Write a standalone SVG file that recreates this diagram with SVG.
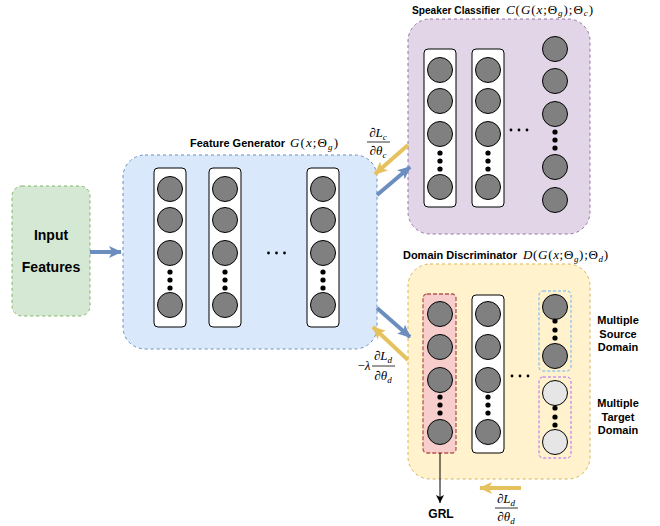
<svg xmlns="http://www.w3.org/2000/svg" width="660" height="526" viewBox="0 0 660 526">
<defs>
<style>
.lbl{font-family:"Liberation Sans",Arial,sans-serif;font-weight:bold;fill:#000}
.m{font-family:"Liberation Serif","Times New Roman",serif;font-style:italic;fill:#000}
.u{font-style:normal}
.col{fill:#fff;stroke:#000;stroke-width:1}
.n{fill:#808080;stroke:#000;stroke-width:1}
.nl{fill:#e6e6e6;stroke:#000;stroke-width:1}
.d{fill:#000}
.ab{stroke:#6c8ebf;stroke-width:4;fill:none}
.ay{stroke:#e6c25e;stroke-width:4;fill:none}
</style>
<marker id="mb" markerUnits="userSpaceOnUse" markerWidth="14" markerHeight="14" refX="12" refY="7" orient="auto"><path d="M0,1 L13,7 L0,13 L3,7 Z" fill="#6c8ebf"/></marker>
<marker id="my" markerUnits="userSpaceOnUse" markerWidth="14" markerHeight="14" refX="12" refY="7" orient="auto"><path d="M0,1 L13,7 L0,13 L3,7 Z" fill="#e6c25e"/></marker>
<marker id="mk" markerUnits="userSpaceOnUse" markerWidth="10" markerHeight="10" refX="8" refY="5" orient="auto"><path d="M0,1 L8,5 L0,9 L2,5 Z" fill="#000"/></marker>
</defs>
<rect width="660" height="526" fill="#fff"/>

<g id="input-features">
<rect x="12" y="186" width="78" height="130" rx="10" fill="#d5e8d4" stroke="#82b366" stroke-dasharray="3 3"/>
<text class="lbl" x="51" y="240" font-size="14" text-anchor="middle">Input</text>
<text class="lbl" x="51" y="272" font-size="14" text-anchor="middle">Features</text>
</g>

<g id="feature-generator">
<rect x="123" y="155" width="254" height="194" rx="22" fill="#dae8fc" stroke="#6c8ebf" stroke-dasharray="3 3"/>
<text class="lbl" x="190" y="147" font-size="11" textLength="95">Feature Generator</text>
<text class="m" x="290" y="147" font-size="13" textLength="48">G<tspan class="u">(</tspan>x<tspan class="u">;Θ</tspan><tspan dy="2.5" font-size="9">g</tspan><tspan class="u" dy="-2.5">)</tspan></text>
<g>
<rect class="col" x="154" y="168" width="32" height="159" rx="4"/>
<circle class="n" cx="170" cy="189" r="12.5"/><circle class="n" cx="170" cy="220" r="12.5"/><circle class="n" cx="170" cy="253" r="12.5"/>
<circle class="d" cx="170" cy="272" r="2.6"/><circle class="d" cx="170" cy="280" r="2.6"/><circle class="d" cx="170" cy="288" r="2.6"/>
<circle class="n" cx="170" cy="305" r="12.5"/>
</g>
<g>
<rect class="col" x="209" y="168" width="32" height="159" rx="4"/>
<circle class="n" cx="225" cy="189" r="12.5"/><circle class="n" cx="225" cy="220" r="12.5"/><circle class="n" cx="225" cy="253" r="12.5"/>
<circle class="d" cx="225" cy="272" r="2.6"/><circle class="d" cx="225" cy="280" r="2.6"/><circle class="d" cx="225" cy="288" r="2.6"/>
<circle class="n" cx="225" cy="305" r="12.5"/>
</g>
<g>
<rect class="col" x="307" y="168" width="32" height="159" rx="4"/>
<circle class="n" cx="323" cy="189" r="12.5"/><circle class="n" cx="323" cy="220" r="12.5"/><circle class="n" cx="323" cy="253" r="12.5"/>
<circle class="d" cx="323" cy="272" r="2.6"/><circle class="d" cx="323" cy="280" r="2.6"/><circle class="d" cx="323" cy="288" r="2.6"/>
<circle class="n" cx="323" cy="305" r="12.5"/>
</g>
<circle class="d" cx="268.5" cy="253" r="1.4"/><circle class="d" cx="276.5" cy="253" r="1.4"/><circle class="d" cx="284.5" cy="253" r="1.4"/>
</g>

<g id="speaker-classifier">
<rect x="408" y="19" width="182" height="215" rx="22" fill="#e1d5e7" stroke="#9673a6" stroke-dasharray="3 3"/>
<text class="lbl" x="412" y="13.5" font-size="11" textLength="88" lengthAdjust="spacingAndGlyphs">Speaker Classifier</text>
<text class="m" x="506" y="13.5" font-size="13" textLength="87">C<tspan class="u">(</tspan>G<tspan class="u">(</tspan>x<tspan class="u">;Θ</tspan><tspan dy="2.5" font-size="9">g</tspan><tspan class="u" dy="-2.5">);Θ</tspan><tspan dy="2.5" font-size="9">c</tspan><tspan class="u" dy="-2.5">)</tspan></text>
<g>
<rect class="col" x="424" y="49" width="32" height="158" rx="4"/>
<circle class="n" cx="440" cy="70" r="12.5"/><circle class="n" cx="440" cy="101" r="12.5"/><circle class="n" cx="440" cy="134" r="12.5"/>
<circle class="d" cx="440" cy="153" r="2.6"/><circle class="d" cx="440" cy="161" r="2.6"/><circle class="d" cx="440" cy="169" r="2.6"/>
<circle class="n" cx="440" cy="187" r="12.5"/>
</g>
<g>
<rect class="col" x="472" y="49" width="32" height="158" rx="4"/>
<circle class="n" cx="488" cy="70" r="12.5"/><circle class="n" cx="488" cy="101" r="12.5"/><circle class="n" cx="488" cy="134" r="12.5"/>
<circle class="d" cx="488" cy="153" r="2.6"/><circle class="d" cx="488" cy="161" r="2.6"/><circle class="d" cx="488" cy="169" r="2.6"/>
<circle class="n" cx="488" cy="187" r="12.5"/>
</g>
<g>
<circle class="n" cx="555" cy="49" r="12.5"/><circle class="n" cx="555" cy="81" r="12.5"/><circle class="n" cx="555" cy="114" r="12.5"/>
<circle class="d" cx="555" cy="132" r="2.6"/><circle class="d" cx="555" cy="140" r="2.6"/><circle class="d" cx="555" cy="148" r="2.6"/>
<circle class="n" cx="555" cy="167" r="12.5"/><circle class="n" cx="555" cy="200" r="12.5"/>
</g>
<circle class="d" cx="511" cy="130" r="1.4"/><circle class="d" cx="519" cy="130" r="1.4"/><circle class="d" cx="527" cy="130" r="1.4"/>
</g>

<g id="domain-discriminator">
<rect x="408" y="264" width="182" height="215" rx="22" fill="#fff2cc" stroke="#d6b656" stroke-dasharray="3 3"/>
<text class="lbl" x="403" y="259" font-size="11" textLength="114" lengthAdjust="spacingAndGlyphs">Domain Discriminator</text>
<text class="m" x="523" y="259" font-size="13" textLength="85">D<tspan class="u">(</tspan>G<tspan class="u">(</tspan>x<tspan class="u">;Θ</tspan><tspan dy="2.5" font-size="9">g</tspan><tspan class="u" dy="-2.5">);Θ</tspan><tspan dy="2.5" font-size="9">d</tspan><tspan class="u" dy="-2.5">)</tspan></text>
<g id="grl-column">
<rect x="423" y="294" width="33" height="159" rx="4" fill="#f8cecc" stroke="#b85450" stroke-width="1.3" stroke-dasharray="4 2"/>
<circle class="n" cx="440" cy="314" r="12.5"/><circle class="n" cx="440" cy="347" r="12.5"/><circle class="n" cx="440" cy="380" r="12.5"/>
<circle class="d" cx="440" cy="397" r="2.6"/><circle class="d" cx="440" cy="405" r="2.6"/><circle class="d" cx="440" cy="413" r="2.6"/>
<circle class="n" cx="440" cy="432" r="12.5"/>
</g>
<g>
<rect class="col" x="472" y="295" width="32" height="158" rx="4"/>
<circle class="n" cx="488" cy="314" r="12.5"/><circle class="n" cx="488" cy="347" r="12.5"/><circle class="n" cx="488" cy="380" r="12.5"/>
<circle class="d" cx="488" cy="397" r="2.6"/><circle class="d" cx="488" cy="405" r="2.6"/><circle class="d" cx="488" cy="413" r="2.6"/>
<circle class="n" cx="488" cy="432" r="12.5"/>
</g>
<g id="source-domain">
<rect x="539" y="291" width="32" height="80" rx="4" fill="none" stroke="#66b2ff" stroke-dasharray="3 2"/>
<circle class="n" cx="555" cy="307" r="12.5"/>
<circle class="d" cx="555" cy="321" r="2.6"/><circle class="d" cx="555" cy="330" r="2.6"/><circle class="d" cx="555" cy="338" r="2.6"/>
<circle class="n" cx="555" cy="356" r="12.5"/>
</g>
<g id="target-domain">
<rect x="539" y="377" width="32" height="81" rx="4" fill="none" stroke="#b266ff" stroke-dasharray="3 2"/>
<circle class="nl" cx="555" cy="393" r="12.5"/>
<circle class="d" cx="555" cy="408" r="2.6"/><circle class="d" cx="555" cy="417" r="2.6"/><circle class="d" cx="555" cy="425" r="2.6"/>
<circle class="nl" cx="555" cy="442" r="12.5"/>
</g>
<circle class="d" cx="512" cy="376" r="1.4"/><circle class="d" cx="520" cy="376" r="1.4"/><circle class="d" cx="528" cy="376" r="1.4"/>
<text class="lbl" font-size="11" text-anchor="middle"><tspan x="618" y="324">Multiple</tspan><tspan x="618" y="337.5">Source</tspan><tspan x="618" y="351">Domain</tspan></text>
<text class="lbl" font-size="11" text-anchor="middle"><tspan x="618" y="407">Multiple</tspan><tspan x="618" y="420.5">Target</tspan><tspan x="618" y="434">Domain</tspan></text>
</g>

<g id="grl">
<text class="lbl" x="441" y="518" font-size="12" text-anchor="middle">GRL</text>
</g>

<g id="connectors">
<line class="ab" x1="90" y1="252" x2="121" y2="252" marker-end="url(#mb)"/>
<line class="ab" x1="377" y1="195" x2="410" y2="167" marker-end="url(#mb)"/>
<line class="ay" x1="408" y1="145" x2="375" y2="174" marker-end="url(#my)"/>
<line class="ab" x1="377" y1="308" x2="410" y2="337" marker-end="url(#mb)"/>
<line class="ay" x1="408" y1="360" x2="373" y2="327" marker-end="url(#my)"/>
<line class="ay" x1="521" y1="488" x2="480" y2="488" marker-end="url(#my)"/>
<line x1="440" y1="453" x2="440" y2="503" stroke="#000" stroke-width="1" marker-end="url(#mk)"/>
</g>

<g id="gradient-labels">
<text class="m" x="378" y="137" font-size="13" text-anchor="middle"><tspan class="u">∂</tspan>L<tspan dy="2.5" font-size="9">c</tspan></text>
<line x1="367" y1="142" x2="390" y2="142" stroke="#000" stroke-width="0.8"/>
<text class="m" x="378" y="155" font-size="13" text-anchor="middle"><tspan class="u">∂</tspan>θ<tspan dy="2.5" font-size="9">c</tspan></text>

<text class="m" x="364" y="370" font-size="13" text-anchor="middle"><tspan class="u">−</tspan>λ</text>
<text class="m" x="383" y="360" font-size="13" text-anchor="middle"><tspan class="u">∂</tspan>L<tspan dy="2.5" font-size="9">d</tspan></text>
<line x1="372" y1="366" x2="395" y2="366" stroke="#000" stroke-width="0.8"/>
<text class="m" x="383" y="380" font-size="13" text-anchor="middle"><tspan class="u">∂</tspan>θ<tspan dy="2.5" font-size="9">d</tspan></text>

<text class="m" x="506" y="503" font-size="13" text-anchor="middle"><tspan class="u">∂</tspan>L<tspan dy="2.5" font-size="9">d</tspan></text>
<line x1="495" y1="508" x2="518" y2="508" stroke="#000" stroke-width="0.8"/>
<text class="m" x="506" y="521" font-size="13" text-anchor="middle"><tspan class="u">∂</tspan>θ<tspan dy="2.5" font-size="9">d</tspan></text>
</g>
</svg>
